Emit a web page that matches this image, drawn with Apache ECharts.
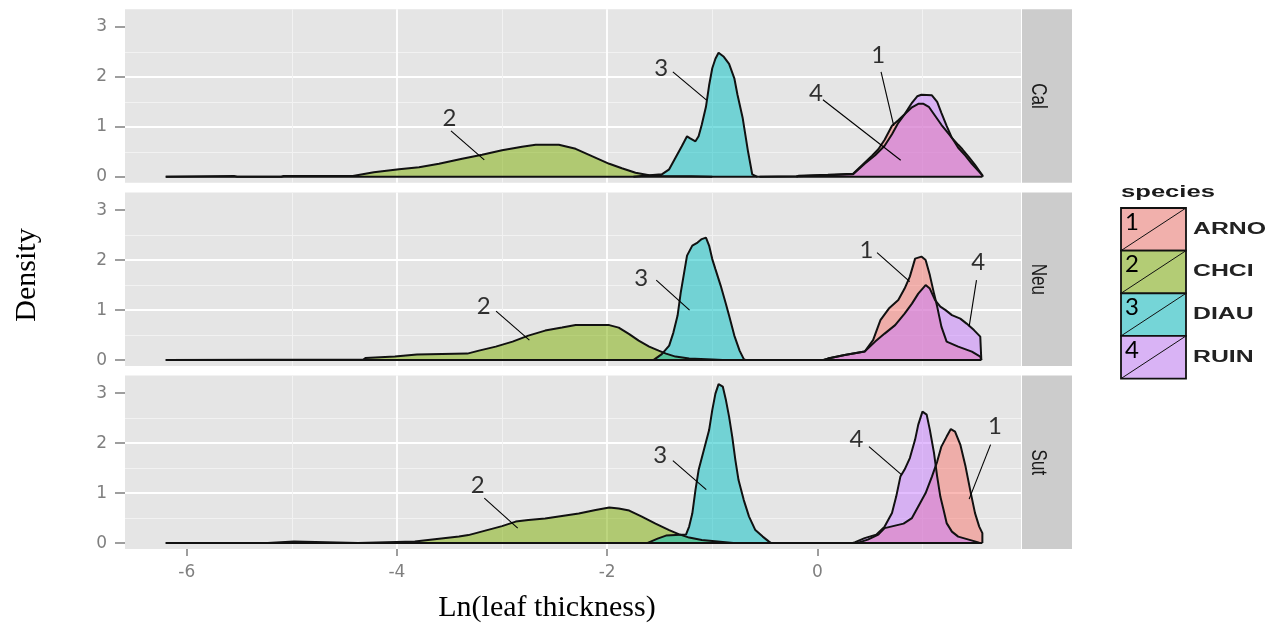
<!DOCTYPE html>
<html><head><meta charset="utf-8">
<script src="https://cdn.jsdelivr.net/npm/echarts@6/dist/echarts.min.js"></script>
<style>html,body{margin:0;padding:0;background:#fff}#c{width:1286px;height:630px}</style>
</head><body><div id="c"></div>
<script>
// ---------- data ----------
const species = ['ARNO', 'CHCI', 'DIAU', 'RUIN'];
const speciesNum = ['1', '2', '3', '4'];
const panels = ['Cal', 'Neu', 'Sut'];
const xTickValues = [-6, -4, -2, 0];
const yTickValues = [0, 1, 2, 3];

const cal_ARNO = [[-0.2,0],[-0.18,0.02],[0.1,0.04],[0.34,0.06],[0.45,0.28],[0.52,0.42],[0.58,0.55],[0.64,0.74],[0.71,1.02],[0.77,1.13],[0.83,1.25],[0.90,1.39],[0.96,1.46],[1.01,1.46],[1.06,1.40],[1.12,1.22],[1.18,1.04],[1.25,0.86],[1.28,0.78],[1.34,0.64],[1.38,0.55],[1.44,0.40],[1.50,0.24],[1.55,0.09],[1.57,0.03],[1.57,0]];
const cal_CHCI = [[-6.2,0],[-6.2,0.015],[-5.55,0.015],[-5.52,0],[-5.1,0],[-5.08,0.015],[-4.42,0.015],[-4.41,0.05],[-4.22,0.09],[-3.98,0.15],[-3.79,0.19],[-3.6,0.26],[-3.38,0.36],[-3.19,0.44],[-3.0,0.53],[-2.81,0.6],[-2.68,0.64],[-2.46,0.64],[-2.3,0.56],[-2.14,0.41],[-1.98,0.26],[-1.86,0.17],[-1.73,0.08],[-1.6,0.03],[-1.48,0.015],[-1.2,0.01],[-1.0,0]];
const cal_DIAU = [[-1.75,0],[-1.65,0.02],[-1.48,0.05],[-1.41,0.15],[-1.35,0.38],[-1.29,0.61],[-1.24,0.81],[-1.21,0.77],[-1.16,0.71],[-1.13,0.81],[-1.10,1.04],[-1.06,1.40],[-1.03,1.83],[-1.0,2.17],[-0.97,2.36],[-0.94,2.48],[-0.89,2.40],[-0.84,2.26],[-0.79,1.97],[-0.76,1.64],[-0.71,1.17],[-0.66,0.51],[-0.62,0.05],[-0.57,0]];
const cal_RUIN = [[-0.55,0],[-0.2,0.01],[0.1,0.03],[0.34,0.05],[0.45,0.26],[0.55,0.43],[0.64,0.62],[0.71,0.85],[0.77,1.08],[0.83,1.25],[0.90,1.48],[0.95,1.61],[0.99,1.64],[1.09,1.63],[1.14,1.50],[1.18,1.28],[1.23,1.02],[1.28,0.78],[1.34,0.58],[1.41,0.42],[1.47,0.26],[1.54,0.10],[1.57,0.03],[1.57,0]];

const neu_ARNO = [[0.05,0],[0.10,0.03],[0.26,0.10],[0.45,0.17],[0.53,0.40],[0.60,0.80],[0.68,1.03],[0.77,1.20],[0.83,1.43],[0.88,1.67],[0.93,2.03],[0.99,2.07],[1.03,2.0],[1.07,1.70],[1.11,1.33],[1.14,1.07],[1.18,0.67],[1.23,0.37],[1.34,0.27],[1.47,0.17],[1.55,0.07],[1.56,0]];
const neu_CHCI = [[-6.2,0],[-6.2,0.01],[-4.32,0.01],[-4.30,0.04],[-4.02,0.07],[-3.81,0.11],[-3.33,0.13],[-3.22,0.19],[-3.06,0.27],[-2.90,0.37],[-2.75,0.49],[-2.59,0.59],[-2.43,0.65],[-2.30,0.70],[-1.98,0.70],[-1.89,0.65],[-1.79,0.52],[-1.70,0.39],[-1.60,0.27],[-1.51,0.19],[-1.44,0.13],[-1.35,0.07],[-1.22,0.03],[-1.0,0.01],[-0.9,0]];
const neu_DIAU = [[-1.56,0],[-1.48,0.12],[-1.41,0.29],[-1.37,0.55],[-1.33,0.89],[-1.30,1.35],[-1.27,1.72],[-1.24,2.09],[-1.19,2.29],[-1.14,2.35],[-1.10,2.42],[-1.06,2.45],[-1.03,2.29],[-1.0,2.02],[-0.97,1.82],[-0.92,1.49],[-0.87,1.12],[-0.84,0.89],[-0.79,0.49],[-0.74,0.19],[-0.70,0.02],[-0.68,0]];
const neu_RUIN = [[0.05,0],[0.10,0.03],[0.26,0.10],[0.45,0.17],[0.55,0.37],[0.64,0.53],[0.74,0.70],[0.83,0.93],[0.90,1.13],[0.96,1.33],[1.03,1.50],[1.07,1.43],[1.12,1.20],[1.17,1.07],[1.22,1.0],[1.28,0.90],[1.36,0.83],[1.42,0.73],[1.49,0.60],[1.55,0.47],[1.56,0]];

const sut_ARNO = [[0.36,0],[0.39,0.01],[0.48,0.07],[0.58,0.17],[0.64,0.30],[0.74,0.35],[0.82,0.39],[0.90,0.50],[0.96,0.73],[1.03,1.0],[1.09,1.33],[1.14,1.63],[1.18,1.93],[1.23,2.13],[1.27,2.28],[1.31,2.23],[1.36,1.97],[1.41,1.53],[1.46,1.0],[1.50,0.60],[1.54,0.33],[1.57,0.2],[1.57,0]];
const sut_CHCI = [[-6.2,0],[-5.23,0],[-5.23,0.03],[-4.98,0.03],[-4.97,0],[-4.37,0],[-4.37,0.02],[-3.83,0.03],[-3.82,0.07],[-3.41,0.13],[-3.32,0.16],[-3.16,0.25],[-3.0,0.34],[-2.87,0.43],[-2.75,0.46],[-2.59,0.49],[-2.43,0.54],[-2.27,0.59],[-2.11,0.66],[-1.98,0.71],[-1.89,0.69],[-1.79,0.65],[-1.67,0.53],[-1.54,0.39],[-1.41,0.26],[-1.32,0.18],[-1.22,0.11],[-1.10,0.06],[-0.90,0.02],[-0.8,0]];
const sut_DIAU = [[-1.62,0],[-1.52,0.09],[-1.44,0.15],[-1.35,0.16],[-1.25,0.17],[-1.22,0.33],[-1.19,0.59],[-1.16,1.06],[-1.13,1.46],[-1.08,1.86],[-1.03,2.26],[-1.0,2.66],[-0.97,2.99],[-0.94,3.18],[-0.90,3.13],[-0.87,2.86],[-0.84,2.53],[-0.81,2.13],[-0.78,1.66],[-0.75,1.26],[-0.70,0.86],[-0.65,0.53],[-0.59,0.26],[-0.52,0.13],[-0.46,0.03],[-0.44,0]];
const sut_RUIN = [[0.33,0],[0.36,0.02],[0.45,0.10],[0.56,0.17],[0.64,0.33],[0.71,0.60],[0.75,0.93],[0.79,1.33],[0.83,1.47],[0.88,1.70],[0.93,2.07],[0.96,2.37],[1.0,2.63],[1.04,2.57],[1.07,2.27],[1.11,1.80],[1.14,1.33],[1.17,0.93],[1.20,0.67],[1.23,0.40],[1.28,0.23],[1.34,0.13],[1.44,0.07],[1.54,0.01],[1.56,0]];

// annotation numbers [x, y, text] and leader lines, in data units
const cal_labels = [[-3.50,1.18,'2'],[-1.486,2.18,'3'],[0.58,2.43,'1'],[-0.013,1.67,'4']];
const cal_leaders = [[[-3.486,0.92],[-3.169,0.34]],[[-1.375,2.10],[-1.057,1.54]],[[0.606,2.10],[0.727,1.02]],[[0.053,1.54],[0.793,0.33]]];
const neu_labels = [[-3.175,1.08,'2'],[-1.676,1.63,'3'],[0.467,2.2,'1'],[1.53,1.95,'4']];
const neu_leaders = [[[-3.057,0.98],[-2.74,0.40]],[[-1.533,1.60],[-1.216,1.0]],[[0.568,2.15],[0.879,1.57]],[[1.514,1.6],[1.444,0.67]]];
const sut_labels = [[-3.232,1.15,'2'],[-1.495,1.75,'3'],[0.371,2.07,'4'],[1.689,2.33,'1']];
const sut_leaders = [[[-3.169,0.90],[-2.851,0.30]],[[-1.375,1.65],[-1.057,1.07]],[[0.491,1.93],[0.80,1.37]],[[1.648,1.97],[1.444,0.88]]];

// ---------- build ----------
const panelData = [
  [cal_ARNO, cal_CHCI, cal_DIAU, cal_RUIN],
  [neu_ARNO, neu_CHCI, neu_DIAU, neu_RUIN],
  [sut_ARNO, sut_CHCI, sut_DIAU, sut_RUIN]
];
const panelLabels = [cal_labels, neu_labels, sut_labels];
const panelLeaders = [cal_leaders, neu_leaders, sut_leaders];

const colors = ['#F8766D', '#7CAE00', '#00BFC4', '#C77CFF'];
const XMIN = -6.5875, XMAX = 1.9375, YMIN = -0.12, YMAX = 3.35;
const LEFT = 125, PW = 896, PH = 173.5;
const tops = [9.3, 192.6, 375.6];
const axisGrey = '#7f7f7f';
const outline = {color: '#111', width: 2};

const grids = [], xAxes = [], yAxes = [], series = [], graphics = [];
panels.forEach((name, p) => {
  grids.push({left: LEFT, top: tops[p], width: PW, height: PH, show: true,
    backgroundColor: '#E5E5E5', borderWidth: 0});
  // minor grid axis (index 2p)
  xAxes.push({type: 'value', gridIndex: p, min: XMIN, max: XMAX, minInterval: 1, maxInterval: 1,
    position: 'top', axisLine: {show: false, onZero: false}, axisTick: {show: false}, axisLabel: {show: false},
    splitLine: {show: true, showMinLine: false, showMaxLine: false,
      lineStyle: {color: ['rgba(0,0,0,0)', '#F2F2F2'], width: 1}}});
  // major axis (index 2p+1)
  xAxes.push({type: 'value', gridIndex: p, min: XMIN, max: XMAX, minInterval: 2, maxInterval: 2,
    position: 'bottom', axisLine: {show: false, onZero: false},
    axisTick: {show: p === 2, customValues: xTickValues, length: 7, lineStyle: {color: axisGrey, width: 1.5}},
    axisLabel: {show: p === 2, customValues: xTickValues, color: axisGrey, fontFamily: 'DejaVu Sans',
      fontSize: 17, margin: 15},
    splitLine: {show: true, showMinLine: false, showMaxLine: false, lineStyle: {color: '#FFFFFF', width: 1.8}}});
  yAxes.push({type: 'value', gridIndex: p, min: YMIN, max: YMAX, minInterval: 0.5, maxInterval: 0.5,
    position: 'right', axisLine: {show: false, onZero: false}, axisTick: {show: false}, axisLabel: {show: false},
    splitLine: {show: true, showMinLine: false, showMaxLine: false,
      lineStyle: {color: ['rgba(0,0,0,0)', '#F2F2F2'], width: 1}}});
  yAxes.push({type: 'value', gridIndex: p, min: YMIN, max: YMAX, minInterval: 1, maxInterval: 1,
    position: 'left', axisLine: {show: false, onZero: false},
    axisTick: {show: true, customValues: yTickValues, length: 10, lineStyle: {color: axisGrey, width: 1.5}},
    axisLabel: {show: true, customValues: yTickValues, color: axisGrey, fontFamily: 'DejaVu Sans',
      fontSize: 17, margin: 18},
    splitLine: {show: true, showMinLine: false, showMaxLine: false, lineStyle: {color: '#FFFFFF', width: 1.8}}});

  const xi = 2 * p, yi = 2 * p;
  panelData[p].forEach((d, s) => {
    series.push({type: 'line', name: species[s], xAxisIndex: xi, yAxisIndex: yi, data: d,
      symbol: 'none', showSymbol: false, silent: true, z: 2,
      lineStyle: outline,
      areaStyle: {color: colors[s], opacity: 0.5}, itemStyle: {color: colors[s]}});
  });
  // polygon bottom edge along y = 0 over the data range
  const allX = panelData[p].flat().map(v => v[0]);
  series.push({type: 'line', xAxisIndex: xi, yAxisIndex: yi, silent: true, z: 3, symbol: 'none',
    data: [[Math.min(...allX), 0], [Math.max(...allX), 0]], lineStyle: outline});
  series.push({type: 'lines', coordinateSystem: 'cartesian2d', xAxisIndex: xi, yAxisIndex: yi, silent: true, z: 5,
    data: panelLeaders[p].map(l => ({coords: l})), lineStyle: {color: '#000', width: 1.1, opacity: 1}, symbol: 'none'});
  series.push({type: 'scatter', xAxisIndex: xi, yAxisIndex: yi, silent: true, z: 6, symbolSize: 0,
    data: panelLabels[p],
    label: {show: true, position: 'inside', formatter: q => q.value[2], fontFamily: 'Lato',
      fontSize: 24, color: '#000', align: 'center', verticalAlign: 'middle'}});

  // facet strip
  graphics.push({type: 'rect', shape: {x: 1022, y: tops[p], width: 50, height: PH},
    style: {fill: '#CCCCCC'}, silent: true});
  graphics.push({type: 'text', x: 1038, y: tops[p] + PH / 2, rotation: -Math.PI / 2, scaleY: 1.3, silent: true,
    style: {text: name, font: '17px "Liberation Sans"', fill: '#1A1A1A', align: 'center', verticalAlign: 'middle'}});
});

// axis titles
graphics.push({type: 'text', x: 27, y: 275, rotation: Math.PI / 2, silent: true,
  style: {text: 'Density', font: '30px "Liberation Serif"', fill: '#000', align: 'center', verticalAlign: 'middle'}});
graphics.push({type: 'text', x: 547, y: 608, silent: true,
  style: {text: 'Ln(leaf thickness)', font: '30px "Liberation Serif"', fill: '#000', align: 'center', verticalAlign: 'middle'}});

// legend
const LX = 1121, LY = 208, KW = 65, KH = 42.65;
graphics.push({type: 'text', x: LX, y: 193, scaleX: 1.6, silent: true,
  style: {text: 'species', font: 'bold 16px "Liberation Sans"', fill: '#1A1A1A', align: 'left', verticalAlign: 'middle'}});
species.forEach((sp, i) => {
  const y0 = LY + i * KH;
  graphics.push({type: 'rect', shape: {x: LX, y: y0, width: KW, height: KH}, style: {fill: '#EAEAEA'}, silent: true});
  graphics.push({type: 'rect', shape: {x: LX, y: y0, width: KW, height: KH},
    style: {fill: colors[i], opacity: 0.5}, silent: true});
  graphics.push({type: 'line', shape: {x1: LX, y1: y0 + KH, x2: LX + KW, y2: y0}, style: {stroke: '#111', lineWidth: 1}, silent: true});
  graphics.push({type: 'rect', shape: {x: LX, y: y0, width: KW, height: KH},
    style: {fill: 'none', stroke: '#111', lineWidth: 1.8}, silent: true});
  graphics.push({type: 'text', x: LX + 4, y: y0 + 2, silent: true,
    style: {text: speciesNum[i], font: '24px Lato', fill: '#000', align: 'left', verticalAlign: 'top'}});
  graphics.push({type: 'text', x: 1193, y: y0 + KH / 2, scaleX: 1.55, silent: true,
    style: {text: sp, font: 'bold 16px "Liberation Sans"', fill: '#222', align: 'left', verticalAlign: 'middle'}});
});

const chart = echarts.init(document.getElementById('c'), null, {renderer: 'canvas'});
chart.setOption({
  animation: false,
  backgroundColor: '#FFFFFF',
  grid: grids, xAxis: xAxes, yAxis: yAxes, series: series,
  graphic: graphics
});
</script>
</body></html>
